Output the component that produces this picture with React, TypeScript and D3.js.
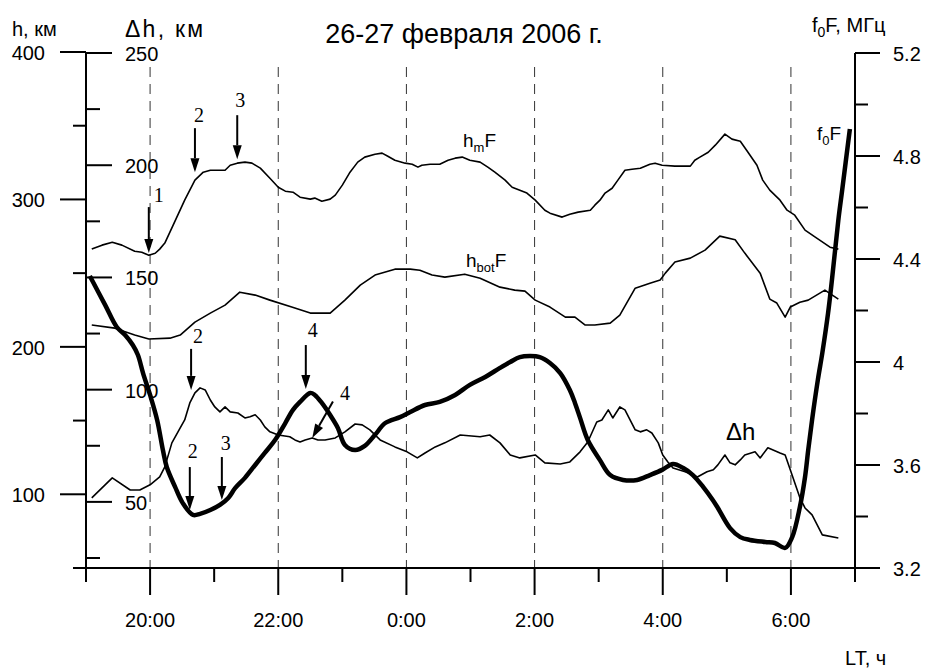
import React from 'react';
import * as d3 from 'd3';

const W = 925;
const H = 669;

// time in hours (24+ = next day)
const hmF: [number, number][] = [
  [19.09, 266.3], [19.25, 269.0], [19.41, 271.0], [19.56, 269.0], [19.76, 264.9], [19.87, 264.2],
  [19.98, 262.2], [20.08, 263.5], [20.15, 266.3], [20.23, 270.4], [20.36, 282.6], [20.54, 299.5],
  [20.70, 313.1], [20.83, 318.5], [20.94, 319.8], [21.17, 319.8], [21.25, 323.2], [21.36, 324.6],
  [21.48, 325.3], [21.59, 324.6], [21.72, 321.2], [21.87, 314.4], [22.00, 308.3], [22.11, 305.6],
  [22.23, 304.9], [22.34, 301.5], [22.50, 300.2], [22.57, 300.9], [22.68, 298.8], [22.81, 300.2],
  [22.89, 302.9], [23.00, 309.7], [23.12, 318.5], [23.24, 325.3], [23.35, 328.7], [23.51, 330.7],
  [23.62, 331.4], [23.71, 329.3], [23.82, 326.6], [23.98, 324.6], [24.09, 323.9], [24.18, 321.9],
  [24.24, 323.2], [24.37, 323.9], [24.52, 323.9], [24.65, 326.6], [24.76, 328.0], [24.87, 328.7],
  [24.99, 326.6], [25.15, 325.3], [25.27, 321.9], [25.38, 318.5], [25.54, 313.1], [25.65, 308.3],
  [25.77, 306.3], [25.88, 304.3], [26.01, 299.5], [26.16, 292.7], [26.24, 290.7], [26.43, 288.0],
  [26.55, 290.0], [26.68, 291.4], [26.87, 292.7], [26.94, 296.1], [27.02, 299.5], [27.10, 304.3],
  [27.21, 307.6], [27.30, 313.1], [27.41, 319.8], [27.52, 320.5], [27.65, 321.2], [27.80, 323.9],
  [27.88, 324.6], [27.99, 323.2], [28.19, 322.6], [28.43, 322.6], [28.50, 326.6], [28.58, 328.7],
  [28.71, 332.0], [28.82, 336.8], [28.97, 344.3], [29.08, 340.9], [29.21, 339.5], [29.33, 332.0],
  [29.47, 323.2], [29.56, 313.1], [29.67, 306.3], [29.83, 299.5], [29.94, 292.7], [30.06, 289.3],
  [30.22, 279.2], [30.38, 274.4], [30.61, 267.6], [30.74, 266.3],
];

const hbotF: [number, number][] = [
  [19.09, 214.8], [19.45, 212.7], [19.76, 208.0], [19.98, 205.3], [20.31, 205.9], [20.47, 208.0],
  [20.70, 216.8], [20.94, 222.9], [21.17, 228.3], [21.40, 237.1], [21.64, 235.1], [21.87, 231.7],
  [22.21, 227.0], [22.50, 222.9], [22.81, 222.9], [23.04, 231.7], [23.28, 241.9], [23.51, 248.7],
  [23.82, 252.7], [24.06, 252.7], [24.21, 252.0], [24.40, 248.7], [24.60, 247.3], [24.91, 249.3],
  [25.15, 246.6], [25.46, 240.5], [25.69, 238.5], [25.85, 237.8], [26.01, 231.7], [26.24, 227.0],
  [26.48, 220.2], [26.63, 220.2], [26.79, 214.8], [26.94, 214.8], [27.18, 216.1], [27.33, 221.5],
  [27.57, 239.8], [27.80, 243.2], [27.96, 245.3], [28.04, 250.0], [28.19, 257.5], [28.43, 260.2],
  [28.66, 265.6], [28.89, 275.1], [29.13, 272.7], [29.28, 263.6], [29.52, 250.0], [29.67, 232.4],
  [29.78, 229.7], [29.91, 220.2], [29.99, 227.0], [30.14, 230.3], [30.27, 231.7], [30.53, 238.5],
  [30.74, 232.4],
];

// Δh, km (inner left axis)
const deltaH: [number, number][] = [
  [19.09, 51.8], [19.41, 60.7], [19.69, 55.3], [19.84, 55.3], [20.00, 57.6], [20.15, 61.1],
  [20.23, 65.6], [20.34, 76.3], [20.47, 83.0], [20.54, 86.5], [20.62, 94.1], [20.70, 98.6],
  [20.78, 100.8], [20.86, 99.9], [20.94, 95.4], [21.01, 92.3], [21.09, 90.1], [21.17, 92.3],
  [21.25, 90.1], [21.37, 89.6], [21.48, 87.4], [21.56, 87.9], [21.64, 88.8], [21.72, 86.5],
  [21.79, 83.4], [21.87, 81.2], [22.00, 79.8], [22.18, 79.0], [22.26, 77.6], [22.34, 76.7],
  [22.42, 77.6], [22.53, 78.5], [22.62, 77.6], [22.73, 77.6], [22.89, 78.5], [23.04, 81.2],
  [23.20, 84.7], [23.31, 84.3], [23.43, 82.1], [23.59, 77.6], [23.82, 74.5], [24.01, 72.3],
  [24.17, 69.6], [24.29, 71.8], [24.45, 74.5], [24.60, 76.3], [24.84, 79.8], [25.15, 79.0],
  [25.30, 79.8], [25.46, 76.3], [25.62, 70.9], [25.77, 69.6], [26.01, 70.9], [26.16, 67.4],
  [26.40, 66.9], [26.55, 67.8], [26.71, 72.3], [26.83, 76.7], [26.97, 85.6], [27.05, 86.5],
  [27.15, 91.0], [27.22, 87.4], [27.33, 92.3], [27.41, 91.0], [27.49, 86.5], [27.57, 82.1],
  [27.65, 81.2], [27.75, 82.1], [27.83, 80.7], [27.93, 76.3], [28.00, 70.9], [28.08, 67.8],
  [28.16, 65.1], [28.35, 63.4], [28.54, 61.1], [28.69, 63.4], [28.79, 64.3], [28.86, 66.5],
  [28.97, 70.9], [29.05, 67.4], [29.13, 66.5], [29.21, 68.7], [29.28, 70.9], [29.44, 72.3],
  [29.52, 69.6], [29.64, 74.1], [29.83, 71.8], [29.91, 70.9], [29.99, 64.3], [30.14, 51.8],
  [30.22, 47.3], [30.33, 44.2], [30.49, 35.3], [30.74, 33.9],
];

// f0F, MHz (right axis)
const foF: [number, number][] = [
  [19.06, 4.334], [19.30, 4.221], [19.48, 4.136], [19.61, 4.105], [19.73, 4.066], [19.81, 4.027],
  [19.89, 3.957], [20.00, 3.872], [20.11, 3.775], [20.20, 3.658], [20.26, 3.592], [20.39, 3.515],
  [20.51, 3.452], [20.67, 3.406], [20.78, 3.410], [20.94, 3.425], [21.09, 3.445], [21.22, 3.472],
  [21.33, 3.511], [21.48, 3.550], [21.64, 3.600], [21.79, 3.647], [21.95, 3.697], [22.11, 3.763],
  [22.23, 3.814], [22.34, 3.845], [22.50, 3.880], [22.57, 3.872], [22.68, 3.841], [22.81, 3.794],
  [22.93, 3.744], [23.04, 3.678], [23.20, 3.658], [23.35, 3.674], [23.51, 3.717], [23.67, 3.763],
  [23.90, 3.786], [24.06, 3.806], [24.29, 3.833], [24.52, 3.845], [24.76, 3.872], [24.99, 3.911],
  [25.23, 3.942], [25.46, 3.977], [25.62, 4.000], [25.77, 4.019], [25.93, 4.023], [26.08, 4.019],
  [26.24, 3.996], [26.40, 3.957], [26.55, 3.891], [26.63, 3.841], [26.71, 3.783], [26.83, 3.697],
  [27.02, 3.619], [27.18, 3.561], [27.38, 3.542], [27.60, 3.542], [27.80, 3.561], [27.99, 3.581],
  [28.16, 3.604], [28.32, 3.588], [28.47, 3.561], [28.63, 3.515], [28.78, 3.464], [28.86, 3.433],
  [29.05, 3.355], [29.21, 3.320], [29.36, 3.309], [29.60, 3.301], [29.75, 3.297], [29.91, 3.278],
  [30.02, 3.320], [30.14, 3.437], [30.22, 3.553], [30.27, 3.658], [30.33, 3.775], [30.42, 3.930],
  [30.49, 4.035], [30.58, 4.190], [30.64, 4.318], [30.74, 4.551], [30.80, 4.668], [30.92, 4.905],
];

const hTicks = [100, 200, 300, 400];
const hMinor = [150, 250, 350];
const dhTicks = [50, 100, 150, 200, 250];
const dhMinor = [25, 75, 125, 175, 225];
const fTicks = [3.2, 3.6, 4, 4.4, 4.8, 5.2];
const fMinor = [3.4, 3.8, 4.2, 4.6, 5.0];
const hourTicks = [20, 22, 24, 26, 28, 30];
const hourMinor = [19, 21, 23, 25, 27, 29, 31];

// numbered arrows: tip in data units on the given axis
const arrows = [
  { n: '1', t: 19.98, v: 263.6, axis: 'h', len: 46, dir: [0, -1], lx: 10, ly: -5 },
  { n: '2', t: 20.70, v: 318.5, axis: 'h', len: 44, dir: [0, -1], lx: 4, ly: -6 },
  { n: '3', t: 21.36, v: 327.3, axis: 'h', len: 44, dir: [0, -1], lx: 3, ly: -8 },
  { n: '2', t: 20.64, v: 99.9, axis: 'dh', len: 41, dir: [0, -1], lx: 7, ly: -6 },
  { n: '4', t: 22.43, v: 3.895, axis: 'f', len: 44, dir: [0, -1], lx: 7, ly: -8 },
  { n: '4', t: 22.53, v: 78.5, axis: 'dh', len: 42, dir: [0.494, -0.87], lx: 12, ly: -1 },
  { n: '2', t: 20.62, v: 3.425, axis: 'f', len: 43, dir: [0, -1], lx: 3, ly: -9 },
  { n: '3', t: 21.12, v: 3.464, axis: 'f', len: 43, dir: [0, -1], lx: 4, ly: -7 },
];

const sans = 'Liberation Sans, Arial, sans-serif';
const serif = 'Liberation Serif, Times New Roman, serif';

const App = () => {
  const x = d3.scaleLinear().domain([19, 31]).range([86, 855]);
  const yH = d3.scaleLinear().domain([50, 400]).range([568, 52]);
  const yDh = d3.scaleLinear().domain([25, 250]).range([558, 53]);
  const yF = d3.scaleLinear().domain([3.2, 5.2]).range([568, 53]);
  const yOf: Record<string, d3.ScaleLinear<number, number>> = { h: yH, dh: yDh, f: yF };

  const lineH = d3.line<[number, number]>().x(d => x(d[0])).y(d => yH(d[1]));
  const lineDh = d3.line<[number, number]>().x(d => x(d[0])).y(d => yDh(d[1]));
  const lineF = d3.line<[number, number]>().x(d => x(d[0])).y(d => yF(d[1])).curve(d3.curveCatmullRom);

  const x0 = x.range()[0];
  const x1 = x.range()[1];
  const yBottom = 568;

  return (
    <svg width={W} height={H} style={{ position: 'absolute', left: 0, top: 0, background: '#fff' }}
      fontFamily={sans}>
      <rect width={W} height={H} fill="#fff" />

      {/* dashed hour grid */}
      {hourTicks.map(h => (
        <line key={'g' + h} x1={x(h)} x2={x(h)} y1={67} y2={yBottom}
          stroke="#333" strokeWidth={1} strokeDasharray="10,7" />
      ))}

      {/* curves */}
      <path d={lineH(hmF) || ''} fill="none" stroke="#000" strokeWidth={1.6} strokeLinejoin="round" />
      <path d={lineH(hbotF) || ''} fill="none" stroke="#000" strokeWidth={1.6} strokeLinejoin="round" />
      <path d={lineDh(deltaH) || ''} fill="none" stroke="#000" strokeWidth={1.6} strokeLinejoin="round" />
      <path d={lineF(foF) || ''} fill="none" stroke="#000" strokeWidth={4.5} strokeLinejoin="round" />

      {/* left axis */}
      <line x1={x0} x2={x0} y1={yH(400)} y2={yBottom} stroke="#000" strokeWidth={2} />
      {hTicks.map(v => (
        <g key={'h' + v}>
          <line x1={60} x2={x0} y1={yH(v)} y2={yH(v)} stroke="#000" strokeWidth={2} />
          <text x={45} y={yH(v) + 8} fontSize={20} textAnchor="end">{v}</text>
        </g>
      ))}
      {hMinor.map(v => (
        <line key={'hm' + v} x1={73} x2={x0} y1={yH(v)} y2={yH(v)} stroke="#000" strokeWidth={2} />
      ))}
      {dhTicks.map(v => (
        <g key={'d' + v}>
          <line x1={x0} x2={112} y1={yDh(v)} y2={yDh(v)} stroke="#000" strokeWidth={2} />
          <text x={125} y={yDh(v) + 8} fontSize={20}>{v}</text>
        </g>
      ))}
      {dhMinor.map(v => (
        <line key={'dm' + v} x1={x0} x2={100} y1={yDh(v)} y2={yDh(v)} stroke="#000" strokeWidth={2} />
      ))}

      {/* right axis */}
      <line x1={x1} x2={x1} y1={yF(5.2)} y2={582} stroke="#000" strokeWidth={2} />
      {fTicks.map(v => (
        <g key={'f' + v}>
          <line x1={x1} x2={880} y1={yF(v)} y2={yF(v)} stroke="#000" strokeWidth={2} />
          <text x={893} y={yF(v) + 8} fontSize={20}>{String(v)}</text>
        </g>
      ))}
      {fMinor.map(v => (
        <line key={'fm' + v} x1={x1} x2={868} y1={yF(v)} y2={yF(v)} stroke="#000" strokeWidth={2} />
      ))}

      {/* bottom axis */}
      <line x1={73} x2={x1} y1={yBottom} y2={yBottom} stroke="#000" strokeWidth={2} />
      {hourTicks.map(h => (
        <g key={'t' + h}>
          <line x1={x(h)} x2={x(h)} y1={yBottom} y2={595} stroke="#000" strokeWidth={2} />
          <text x={x(h)} y={627} fontSize={20} textAnchor="middle">{`${h % 24}:00`}</text>
        </g>
      ))}
      {hourMinor.map(h => (
        <line key={'tm' + h} x1={x(h)} x2={x(h)} y1={yBottom} y2={582} stroke="#000" strokeWidth={2} />
      ))}

      {/* axis titles */}
      <text x={12} y={36} fontSize={20}>h,  км</text>
      <text x={125} y={37} fontSize={23} textLength={78} lengthAdjust="spacing">Δh, км</text>
      <text x={464} y={43} fontSize={27} textAnchor="middle">26-27 февраля 2006 г.</text>
      <text x={812} y={32} fontSize={20}>
        f<tspan fontSize={14} dy={5}>0</tspan><tspan dy={-5}>F, МГц</tspan>
      </text>
      <text x={845} y={665} fontSize={20}>LT, ч</text>

      {/* curve labels */}
      <text x={463} y={147} fontSize={19}>
        h<tspan fontSize={13} dy={5}>m</tspan><tspan dy={-5}>F</tspan>
      </text>
      <text x={466} y={267} fontSize={19}>
        h<tspan fontSize={13} dy={5}>bot</tspan><tspan dy={-5}>F</tspan>
      </text>
      <text x={817} y={140} fontSize={19}>
        f<tspan fontSize={13} dy={5}>0</tspan><tspan dy={-5}>F</tspan>
      </text>
      <text x={726} y={440} fontSize={24}>Δh</text>

      {/* numbered arrows */}
      {arrows.map((a, i) => {
        const tx = x(a.t);
        const ty = yOf[a.axis](a.v);
        const [ux, uy] = a.dir;
        const sx = tx + ux * a.len;
        const sy = ty + uy * a.len;
        const head = 14;
        const hw = 4.5;
        const bx = tx + ux * head;
        const by = ty + uy * head;
        const px = -uy;
        const py = ux;
        return (
          <g key={'a' + i}>
            <line x1={sx} y1={sy} x2={bx} y2={by} stroke="#000" strokeWidth={2} />
            <path d={`M${tx},${ty}L${bx + px * hw},${by + py * hw}L${bx - px * hw},${by - py * hw}Z`} fill="#000" />
            <text x={sx + a.lx} y={sy + a.ly} fontSize={20} fontFamily={serif} textAnchor="middle">{a.n}</text>
          </g>
        );
      })}
    </svg>
  );
};

export default App;
